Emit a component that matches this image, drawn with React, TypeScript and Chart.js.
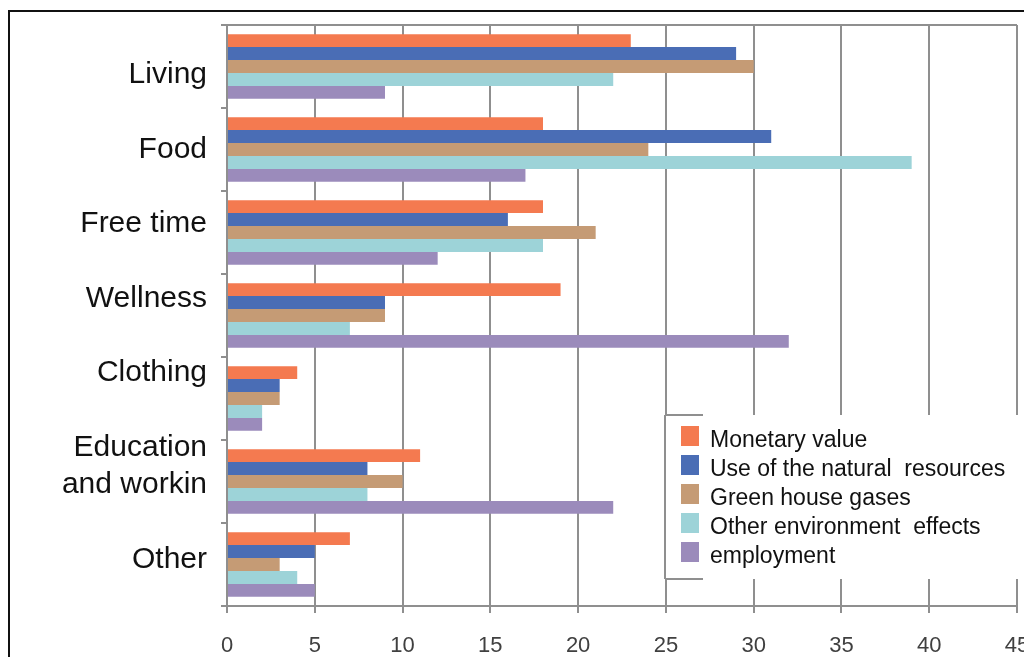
import React, { useEffect, useRef } from "react";
import { Chart, registerables } from "chart.js";

Chart.register(...registerables);

// Spending categories (multi-line labels are arrays of lines)
const categories: string[][] = [
  ["Living"],
  ["Food"],
  ["Free time"],
  ["Wellness"],
  ["Clothing"],
  ["Education", "and workin"],
  ["Other"],
];

const seriesNames = [
  "Monetary value",
  "Use of the natural  resources",
  "Green house gases",
  "Other environment  effects",
  "employment",
];

const monetaryValue = [23, 18, 18, 19, 4, 11, 7];
const naturalResources = [29, 31, 16, 9, 3, 8, 5];
const greenhouseGases = [30, 24, 21, 9, 3, 10, 3];
const otherEnvironmentEffects = [22, 39, 18, 7, 2, 8, 4];
const employment = [9, 17, 12, 32, 2, 22, 5];

const xTicks = [0, 5, 10, 15, 20, 25, 30, 35, 40, 45];

const seriesColors = ["#F47A50", "#4A6DB5", "#C59B75", "#9DD3D8", "#9B8BBB"];

const GRID = "#8f8f8f";
const FONT = '"Liberation Sans", Arial, sans-serif';

// Canvas is wider than the visible page so the right edge is cropped
const CANVAS_W = 1060;
const CANVAS_H = 657;

// White page with a black frame around the figure
const framePlugin = {
  id: "frame",
  beforeDraw(chart: any) {
    const { ctx, width, height } = chart;
    ctx.save();
    ctx.fillStyle = "#ffffff";
    ctx.fillRect(0, 0, width, height);
    ctx.strokeStyle = "#111111";
    ctx.lineWidth = 2;
    ctx.strokeRect(9, 11, 2000, 2000);
    ctx.restore();
  },
  beforeDatasetsDraw(chart: any) {
    const { ctx, chartArea } = chart;
    ctx.save();
    ctx.strokeStyle = GRID;
    ctx.lineWidth = 2;
    ctx.beginPath();
    ctx.moveTo(chartArea.left, chartArea.top);
    ctx.lineTo(chartArea.right, chartArea.top);
    ctx.stroke();
    ctx.restore();
  },
};

// Category names set as a column of text lines left of the axis
const categoryLabelPlugin = {
  id: "categoryLabels",
  afterDraw(chart: any) {
    const { ctx, chartArea } = chart;
    ctx.save();
    ctx.font = `30px ${FONT}`;
    ctx.fillStyle = "#111111";
    ctx.textAlign = "right";
    ctx.textBaseline = "alphabetic";
    let y = chartArea.top + 58;
    (chart.data.labels as string[][]).forEach((lines) => {
      lines.forEach((line, j) => {
        if (j > 0) y += 37;
        ctx.fillText(line, chartArea.left - 20, y);
      });
      y += 74.6;
    });
    ctx.restore();
  },
};

// Boxed legend in the lower right of the plot
const legendBoxPlugin = {
  id: "legendBox",
  afterDraw(chart: any) {
    const { ctx } = chart;
    const left = 665;
    const top = 415;
    const bottom = 579;
    ctx.save();
    ctx.fillStyle = "#ffffff";
    ctx.fillRect(left, top, 2000, bottom - top);
    ctx.strokeStyle = GRID;
    ctx.lineWidth = 2;
    ctx.beginPath();
    ctx.moveTo(left, top);
    ctx.lineTo(left, bottom);
    ctx.moveTo(left, top);
    ctx.lineTo(703, top);
    ctx.moveTo(left, bottom);
    ctx.lineTo(703, bottom);
    ctx.stroke();

    ctx.font = `23px ${FONT}`;
    ctx.textAlign = "left";
    ctx.textBaseline = "alphabetic";
    chart.data.datasets.forEach((ds: any, i: number) => {
      const base = 447 + i * 29;
      ctx.fillStyle = ds.backgroundColor;
      ctx.fillRect(681, base - 21, 18, 20);
      ctx.fillStyle = "#111111";
      ctx.fillText(ds.label, 710, base);
    });
    ctx.restore();
  },
};

export default function App() {
  const canvasRef = useRef<HTMLCanvasElement | null>(null);

  useEffect(() => {
    const canvas = canvasRef.current;
    if (!canvas) return;
    const values = [
      monetaryValue,
      naturalResources,
      greenhouseGases,
      otherEnvironmentEffects,
      employment,
    ];
    const chart = new Chart(canvas, {
      type: "bar",
      data: {
        labels: categories as any,
        datasets: seriesNames.map((name, i) => ({
          label: name,
          data: values[i],
          backgroundColor: seriesColors[i],
          borderWidth: 0,
          categoryPercentage: 0.78,
          barPercentage: 1,
        })),
      },
      options: {
        indexAxis: "y",
        responsive: false,
        animation: false,
        devicePixelRatio: 1,
        layout: { padding: { top: 25, right: CANVAS_W - 1017, left: 0, bottom: 0 } },
        plugins: {
          legend: { display: false },
          tooltip: { enabled: false },
        },
        scales: {
          x: {
            min: xTicks[0],
            max: xTicks[xTicks.length - 1],
            afterBuildTicks: (scale: any) => {
              scale.ticks = xTicks.map((v) => ({ value: v }));
            },
            ticks: {
              color: "#404040",
              font: { family: FONT, size: 22 },
              padding: 20,
              maxRotation: 0,
            },
            grid: { color: GRID, lineWidth: 2, tickLength: 7 },
            border: { color: GRID, width: 2 },
            afterFit: (scale: any) => {
              scale.height = 51;
            },
          },
          y: {
            ticks: { display: false },
            grid: {
              offset: true,
              drawOnChartArea: false,
              color: GRID,
              lineWidth: 2,
              tickLength: 6,
            },
            border: { color: GRID, width: 2 },
            afterFit: (scale: any) => {
              scale.width = 227;
            },
          },
        },
      },
      plugins: [framePlugin, categoryLabelPlugin, legendBoxPlugin],
    });
    return () => chart.destroy();
  }, []);

  return (
    <div
      style={{
        position: "fixed",
        left: 0,
        top: 0,
        width: 1024,
        height: 657,
        overflow: "hidden",
        background: "#ffffff",
      }}
    >
      <canvas
        ref={canvasRef}
        width={CANVAS_W}
        height={CANVAS_H}
        style={{ display: "block", width: CANVAS_W, height: CANVAS_H }}
      />
    </div>
  );
}
